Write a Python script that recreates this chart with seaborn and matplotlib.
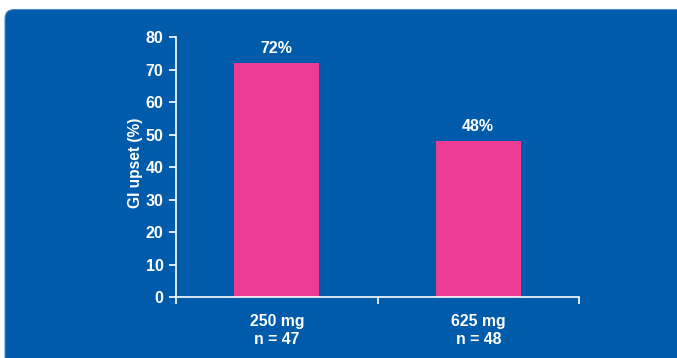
import matplotlib
matplotlib.use("Agg")
import matplotlib.pyplot as plt
from matplotlib.patches import FancyBboxPatch
import seaborn as sns
import pandas as pd

categories = ["250 mg\nn = 47", "625 mg\nn = 48"]
gi_upset = [72, 48]
bar_labels = ["72%", "48%"]
y_ticks = [0, 10, 20, 30, 40, 50, 60, 70, 80]

sns.set_style("ticks")
plt.rcParams["font.family"] = ["Liberation Sans", "DejaVu Sans"]
plt.rcParams["font.weight"] = "bold"

BLUE = "#005BAA"
PINK = "#EC3C96"
WHITE = "white"

fig = plt.figure(figsize=(6.77, 3.58), dpi=100, facecolor="white")
panel = FancyBboxPatch((0.05, -0.3), 7.0, 3.58 - 0.095 + 0.3,
                       boxstyle="round,pad=0,rounding_size=0.09",
                       transform=fig.dpi_scale_trans, facecolor=BLUE,
                       edgecolor="#4F8CC9", linewidth=0.8, zorder=-10)
fig.patches.append(panel)

ax = fig.add_axes([176 / 677, 1 - 297 / 358, (579 - 176) / 677, (297 - 37.3) / 358])
ax.set_zorder(5)
ax.set_facecolor("none")

df = pd.DataFrame({"cat": categories, "val": gi_upset})
sns.barplot(data=df, x="cat", y="val", color=PINK, saturation=1, width=0.42, ax=ax)
for p in ax.patches:
    p.set_edgecolor("none")

ax.bar_label(ax.containers[0], labels=bar_labels, padding=5, color=WHITE,
             fontsize=11.5, fontweight="bold")

ax.set_xlim(-0.5, 1.5)
ax.set_ylim(0, 80)
ax.set_yticks(y_ticks)
ax.set_yticklabels([str(t) for t in y_ticks], color=WHITE, fontsize=11.5, fontweight="bold")

ax.set_xticks([-0.5, 0.5, 1.5])
ax.set_xticklabels([])
ax.set_xticks([0, 1], minor=True)
ax.set_xticklabels(categories, minor=True, color=WHITE, fontsize=11.4, fontweight="bold",
                   linespacing=1.25)
ax.tick_params(axis="x", which="minor", length=0, pad=12.5)
ax.tick_params(axis="x", which="major", length=5, width=1.2, color=WHITE, direction="out")
ax.tick_params(axis="y", length=5, width=1.2, color=WHITE, pad=4)

ax.set_xlabel("")
ax.set_ylabel("GI upset (%)", color=WHITE, fontsize=11.2, fontweight="bold")
ax.yaxis.set_label_coords(-0.083, 0.517)

for side in ["top", "right"]:
    ax.spines[side].set_visible(False)
for side in ["left", "bottom"]:
    ax.spines[side].set_color(WHITE)
    ax.spines[side].set_linewidth(1.2)

fig.savefig("out.png", dpi=100, facecolor=fig.get_facecolor())
